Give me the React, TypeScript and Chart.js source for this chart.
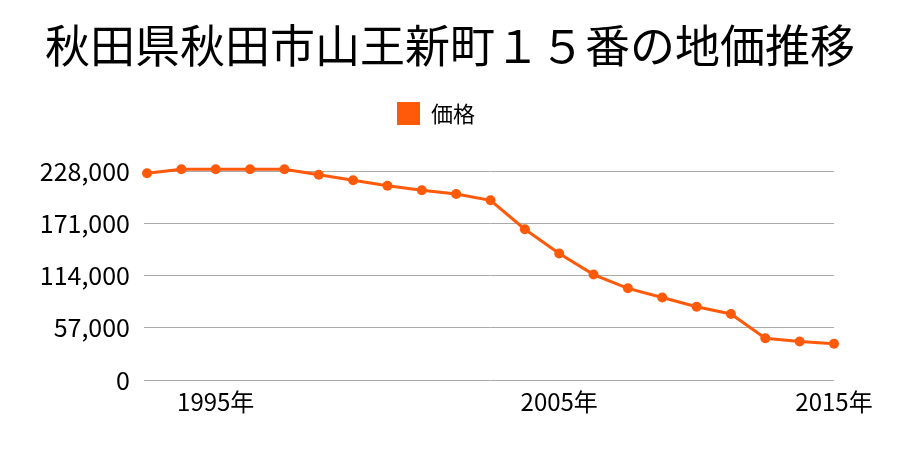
import React, { useEffect, useRef } from "react";
import { Chart, registerables } from "chart.js";

Chart.register(...registerables);

const titleText = "秋田県秋田市山王新町１５番の地価推移";
const seriesName = "価格";
const xTickLabels = [
  "", "", "1995年", "", "", "", "", "", "", "", "", "",
  "2005年", "", "", "", "", "", "", "", "2015年",
];
const prices = [
  225500, 230000, 230000, 230000, 230000, 224000, 218000, 212000, 207000,
  203000, 196000, 164500, 138000, 115000, 100000, 90000, 80000, 72000,
  45500, 42000, 39500,
];
const yTicks = [0, 57000, 114000, 171000, 228000];

const FONT = "'Noto Sans CJK JP', 'Noto Sans', sans-serif";
const ORANGE = "#ff5a0a";

const legendTweak = {
  id: "legendTweak",
  beforeInit(chart: any) {
    const legend = chart.legend;
    if (!legend) return;
    const origFit = legend.fit;
    legend.fit = function () {
      origFit.bind(legend)();
      this.height += 36;
    };
    const origDraw = legend.draw;
    legend.draw = function () {
      const ctx = chart.ctx;
      ctx.save();
      ctx.translate(-14, 0);
      origDraw.bind(legend)();
      ctx.restore();
    };
  },
};

export default function App() {
  const ref = useRef<HTMLCanvasElement | null>(null);

  useEffect(() => {
    if (!ref.current) return;
    const chart = new Chart(ref.current, {
      type: "line",
      data: {
        labels: xTickLabels,
        datasets: [
          {
            label: seriesName,
            data: prices,
            borderColor: ORANGE,
            backgroundColor: ORANGE,
            borderWidth: 3,
            pointRadius: 5,
            pointHoverRadius: 5,
            pointBackgroundColor: ORANGE,
            pointBorderColor: ORANGE,
            pointBorderWidth: 0,
            tension: 0,
            clip: false,
          },
        ],
      },
      options: {
        animation: false,
        responsive: false,
        maintainAspectRatio: false,
        layout: { padding: 0 },
        plugins: {
          title: {
            display: true,
            text: titleText,
            color: "#000",
            font: { family: FONT, size: 45, weight: "normal", lineHeight: 1.2 },
            padding: { top: 19, bottom: 19 },
          },
          legend: {
            display: true,
            position: "top",
            labels: {
              boxWidth: 23,
              boxHeight: 23,
              padding: 10,
              color: "#000",
              font: { family: FONT, size: 22 },
              generateLabels: (c: any) =>
                Chart.defaults.plugins.legend.labels
                  .generateLabels(c)
                  .map((l: any) => ({ ...l, lineWidth: 0 })),
            },
          },
          tooltip: { enabled: false },
        },
        scales: {
          x: {
            type: "category",
            offset: false,
            grid: { display: false, drawTicks: false },
            border: { display: false },
            ticks: {
              autoSkip: false,
              maxRotation: 0,
              minRotation: 0,
              padding: 7,
              color: "#000",
              font: { family: FONT, size: 24 },
              callback: (_v: any, i: number) => xTickLabels[i],
            },
            afterFit: (s: any) => {
              s.height = 70;
            },
          },
          y: {
            min: 0,
            max: 228000,
            afterBuildTicks: (s: any) => {
              s.ticks = yTicks.map((v) => ({ value: v }));
            },
            grid: { color: "#aaaaaa", lineWidth: 1, tickLength: 3 },
            border: { display: false },
            ticks: {
              padding: 14,
              color: "#000",
              font: { family: FONT, size: 25 },
              callback: (v: any) => Number(v).toLocaleString("en-US"),
            },
            afterFit: (s: any) => {
              s.width = 147;
            },
          },
          yRight: {
            position: "right",
            display: true,
            grid: { display: false, drawTicks: false },
            border: { display: false },
            ticks: { display: false },
            afterFit: (s: any) => {
              s.width = 66;
            },
          },
        },
      },
      plugins: [legendTweak],
    });
    return () => chart.destroy();
  }, []);

  return (
    <div style={{ position: "fixed", left: 0, top: 0, width: 900, height: 450, background: "#fff" }}>
      <canvas ref={ref} width={900} height={450} style={{ width: 900, height: 450 }} />
    </div>
  );
}
